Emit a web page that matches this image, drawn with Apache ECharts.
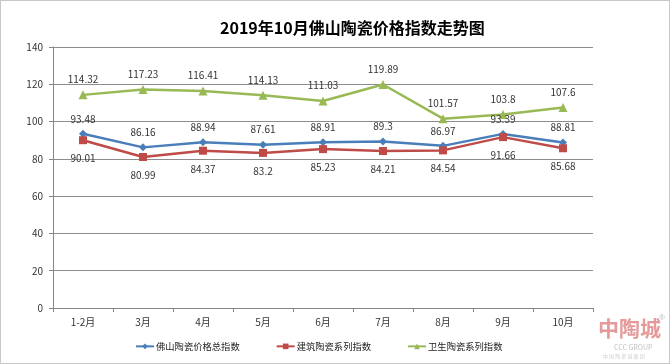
<!DOCTYPE html>
<html><head><meta charset="utf-8">
<script src="https://cdn.jsdelivr.net/npm/echarts@6/dist/echarts.min.js"></script>
<style>html,body{margin:0;padding:0;background:#fff}#c{width:668px;height:362px;border:1px solid #c8c8c8}</style>
</head><body><div id="c"></div>
<script>
const categories = ['1-2月','3月','4月','5月','6月','7月','8月','9月','10月'];
const totalIndex = [93.48,86.16,88.94,87.61,88.91,89.3,86.97,93.39,88.81];
const buildingIndex = [90.01,80.99,84.37,83.2,85.23,84.21,84.54,91.66,85.68];
const sanitaryIndex = [114.32,117.23,116.41,114.13,111.03,119.89,101.57,103.8,107.6];
const seriesNames = ['佛山陶瓷价格总指数','建筑陶瓷系列指数','卫生陶瓷系列指数'];
const titleText = '2019年10月佛山陶瓷价格指数走势图';

const font = '"Noto Sans CJK SC", sans-serif';
const chart = echarts.init(document.getElementById('c'));
const lbl = (pos, dist) => ({show:true, position:pos, distance:dist, fontSize:10, color:'#333', fontFamily:font});
chart.setOption({
  animation:false,
  title:{text:titleText, left:214, top:14, textStyle:{fontSize:16, fontWeight:'bold', color:'#000', fontFamily:font}},
  grid:{left:52, right:76, top:46, bottom:55},
  legend:{bottom:7, left:129, itemGap:36, itemWidth:18, itemHeight:7,
    textStyle:{fontSize:9.3, color:'#222', fontFamily:font, padding:[0,0,0,-3]}, data:seriesNames},
  xAxis:{type:'category', data:categories, boundaryGap:true,
    axisLine:{lineStyle:{color:'#868686'}}, axisTick:{show:true, length:4, lineStyle:{color:'#868686'}},
    axisLabel:{fontSize:10, color:'#333', margin:9, fontFamily:font}},
  yAxis:{type:'value', min:0, max:140, interval:20,
    axisLine:{show:true, lineStyle:{color:'#868686'}}, axisTick:{show:true, length:4, lineStyle:{color:'#868686'}},
    splitLine:{lineStyle:{color:'#8c8c8c'}},
    axisLabel:{fontSize:10, color:'#333', margin:10, fontFamily:font}},
  series:[
    {name:seriesNames[0], type:'line', data:totalIndex, color:'#4a7ebb', symbol:'diamond', symbolSize:8,
      lineStyle:{width:2.5}, label:lbl('top',6)},
    {name:seriesNames[1], type:'line', data:buildingIndex, color:'#be4b48', symbol:'rect', symbolSize:8,
      lineStyle:{width:2.5}, label:lbl('bottom',9)},
    {name:seriesNames[2], type:'line', data:sanitaryIndex, color:'#98b954', symbol:'triangle', symbolSize:9,
      lineStyle:{width:2.5}, label:lbl('top',6)}
  ],
  graphic:[
    {type:'text', left:597, top:317, style:{text:'中陶城', fontSize:21, fontWeight:'bold', fill:'#e49a9a', fontFamily:font}},
    {type:'text', left:658, top:313, style:{text:'®', fontSize:8, fill:'#bbb'}},
    {type:'text', left:613, top:343, style:{text:'CCC GROUP', fontSize:7, fill:'#c0c0c0', fontFamily:font}},
    {type:'text', left:602, top:353, style:{text:'中 国 陶 瓷 城 集 团', fontSize:5, fill:'#cfcfcf', fontFamily:font}}
  ]
});
</script></body></html>
